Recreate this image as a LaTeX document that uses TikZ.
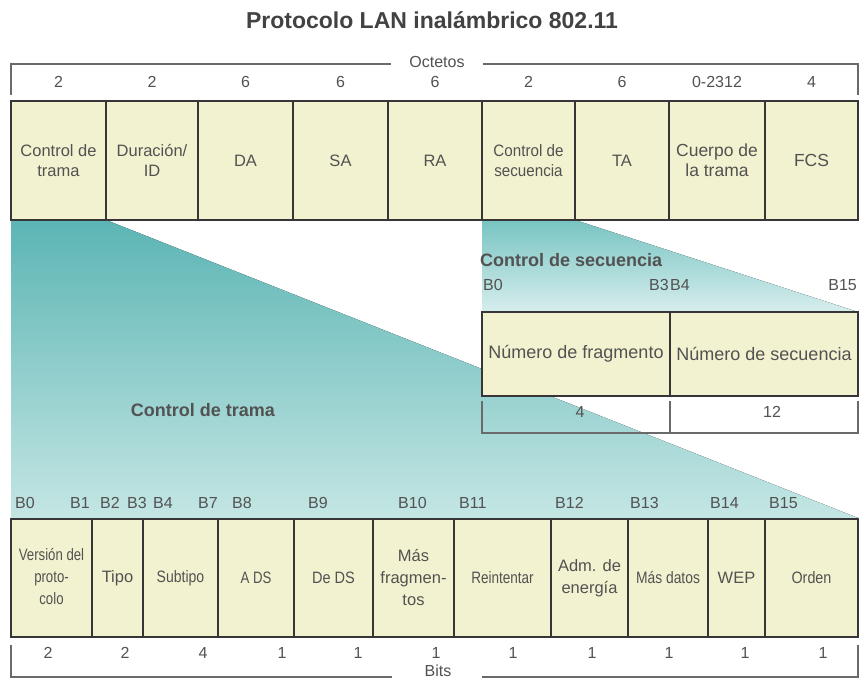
\documentclass[tikz,border=0pt]{standalone}
\usepackage{fontspec}
\setmainfont{Liberation Sans}
\usetikzlibrary{calc}
\definecolor{boxfill}{HTML}{F3F2D0}
\definecolor{boxline}{HTML}{363636}
\definecolor{txt}{HTML}{525252}
\definecolor{brk}{HTML}{6A6A6A}
\definecolor{tealtop}{HTML}{5BB5B4}
\definecolor{tealbot}{HTML}{C4E6E4}
\definecolor{seqtop}{HTML}{78C4C2}
\definecolor{seqbot}{HTML}{D6EEED}
\newcommand{\cnd}[2]{\scalebox{#1}[1]{#2}}
\tikzset{
  field/.style={draw=boxline, line width=2.4pt, fill=boxfill, text=txt, align=center, inner sep=0pt,
    font=\fontsize{16.5}{20}\selectfont},
  bfield/.style={field, minimum height=118pt, font=\fontsize{16.5}{22}\selectfont},
  tfield/.style={field, minimum height=119pt},
  lbl/.style={text=txt, inner sep=0pt, font=\fontsize{16}{19}\selectfont},
  bitlbl/.style={text=txt, inner sep=0pt, font=\fontsize{16}{19}\selectfont},
  bracket/.style={draw=brk, line width=1.2pt},
  heading/.style={text=txt, inner sep=0pt, font=\bfseries\fontsize{18}{22}\selectfont},
  titlestyle/.style={text=txt!80!black, inner sep=0pt, font=\bfseries\fontsize{23}{26}\selectfont},
}
\begin{document}
\begin{tikzpicture}[x=1pt,y=-1pt]
\useasboundingbox (0,0) rectangle (859,679);
\fill[white] (0,0) rectangle (859,679);

% teal expansions
\fill[top color=tealtop, bottom color=tealbot] (11,220) -- (106,220) -- (858,518) -- (11,518) -- cycle;
\fill[top color=seqtop, bottom color=seqbot] (482,220) -- (575,220) -- (858,312) -- (482,312) -- cycle;

% title
\node[titlestyle] (title) at (432,20) {Protocolo LAN inalámbrico 802.11};

% top bracket
\node[lbl] (oct) at (437,62) {Octetos};
\draw[bracket] (11,95) -- (11,64) -- (391,64);
\draw[bracket] (483,64) -- (858,64) -- (858,95);
\node[lbl] (n1) at (58.5,82) {2};
\node[lbl] (n2) at (152,82) {2};
\node[lbl] (n3) at (245.5,82) {6};
\node[lbl] (n4) at (340.5,82) {6};
\node[lbl] (n5) at (435,82) {6};
\node[lbl] (n6) at (528.5,82) {2};
\node[lbl] (n7) at (622,82) {6};
\node[lbl] (n8) at (717,82) {0-2312};
\node[lbl] (n9) at (811.5,82) {4};

% top fields
\node[tfield, minimum width=95pt] (fc)  at (58.5,160.5)  {Control de\\trama};
\node[tfield, minimum width=92pt] (dur) at (152,160.5)   {Duración/\\ID};
\node[tfield, minimum width=95pt] (da)  at (245.5,160.5) {DA};
\node[tfield, minimum width=95pt] (sa)  at (340.5,160.5) {SA};
\node[tfield, minimum width=94pt] (ra)  at (435,160.5)   {RA};
\node[tfield, minimum width=93pt] (sc)  at (528.5,160.5) {\cnd{0.92}{Control de}\\\cnd{0.92}{secuencia}};
\node[tfield, minimum width=94pt] (ta)  at (622,160.5)   {TA};
\node[tfield, minimum width=96pt, font=\fontsize{17.5}{20}\selectfont] (body) at (717,160.5) {Cuerpo de\\la trama};
\node[tfield, minimum width=93pt, font=\fontsize{17.5}{20}\selectfont] (fcs) at (811.5,160.5) {FCS};

% sequence control detail
\node[heading, anchor=west] (seqh) at (480,260) {Control de secuencia};
\node[bitlbl, anchor=west] (s0) at (483,285) {B0};
\node[bitlbl, anchor=east] (s3) at (669,285) {B3};
\node[bitlbl, anchor=west] (s4) at (670,285) {B4};
\node[bitlbl, anchor=east] (s15) at (857,285) {B15};
\node[field, minimum width=188pt, minimum height=84pt, font=\fontsize{18}{21}\selectfont] (frag) at (576,354) {Número de fragmento};
\node[field, minimum width=188pt, minimum height=84pt, font=\fontsize{18}{21}\selectfont] (seqn) at (764,354) {Número de secuencia};
\draw[bracket] (482,401) -- (482,433) -- (858,433) -- (858,401);
\draw[bracket] (670,401) -- (670,433);
\node[lbl] (sq4) at (580,412) {4};
\node[lbl] (sq12) at (772,412) {12};

% frame control detail
\node[heading] (fch) at (203,410) {Control de trama};
\node[bitlbl, anchor=west] (b0) at (15,503) {B0};
\node[bitlbl, anchor=east] (b1) at (90,503) {B1};
\node[bitlbl, anchor=west] (b2) at (100,503) {B2};
\node[bitlbl, anchor=east] (b3) at (147,503) {B3};
\node[bitlbl, anchor=west] (b4) at (153,503) {B4};
\node[bitlbl, anchor=east] (b7) at (218,503) {B7};
\node[bitlbl, anchor=west] (b8) at (232,503) {B8};
\node[bitlbl, anchor=west] (b9) at (308,503) {B9};
\node[bitlbl, anchor=west] (b10) at (398,503) {B10};
\node[bitlbl, anchor=west] (b11) at (459,503) {B11};
\node[bitlbl, anchor=west] (b12) at (555,503) {B12};
\node[bitlbl, anchor=west] (b13) at (630,503) {B13};
\node[bitlbl, anchor=west] (b14) at (710,503) {B14};
\node[bitlbl, anchor=west] (b15) at (769,503) {B15};

\node[bfield, minimum width=81pt] (ver)  at (51.5,578)  {\cnd{0.8}{\begin{tabular}{@{}c@{}}Versión del\\proto-\\colo\end{tabular}}};
\node[bfield, minimum width=51pt] (tipo) at (117.5,578) {Tipo};
\node[bfield, minimum width=75pt] (sub)  at (180.5,578) {\cnd{0.85}{Subtipo}};
\node[bfield, minimum width=76pt] (ads)  at (256,578)   {\cnd{0.8}{A DS}};
\node[bfield, minimum width=79pt] (dds)  at (333.5,578) {\cnd{0.88}{De DS}};
\node[bfield, minimum width=81pt] (mf)   at (413.5,578) {Más\\fragmen-\\tos};
\node[bfield, minimum width=97pt] (rei)  at (502.5,578) {\cnd{0.82}{Reintentar}};
\node[bfield, minimum width=77pt] (adm)  at (589.5,578) {Adm. de\\energía};
\node[bfield, minimum width=80pt] (md)   at (668,578)   {\cnd{0.84}{Más datos}};
\node[bfield, minimum width=57pt] (wep)  at (736.5,578) {WEP};
\node[bfield, minimum width=93pt] (ord)  at (811.5,578) {\cnd{0.87}{Orden}};

% bottom bracket
\node[lbl] (c1) at (48,653) {2};
\node[lbl] (c2) at (125,653) {2};
\node[lbl] (c3) at (203,653) {4};
\node[lbl] (c4) at (282,653) {1};
\node[lbl] (c5) at (358,653) {1};
\node[lbl] (c6) at (436,653) {1};
\node[lbl] (c7) at (513,653) {1};
\node[lbl] (c8) at (592,653) {1};
\node[lbl] (c9) at (669,653) {1};
\node[lbl] (c10) at (745,653) {1};
\node[lbl] (c11) at (823,653) {1};
\node[lbl] (bits) at (438,671) {Bits};
\draw[bracket] (11,645) -- (11,677) -- (392,677);
\draw[bracket] (482,677) -- (858,677) -- (858,645);
\end{tikzpicture}
\end{document}
